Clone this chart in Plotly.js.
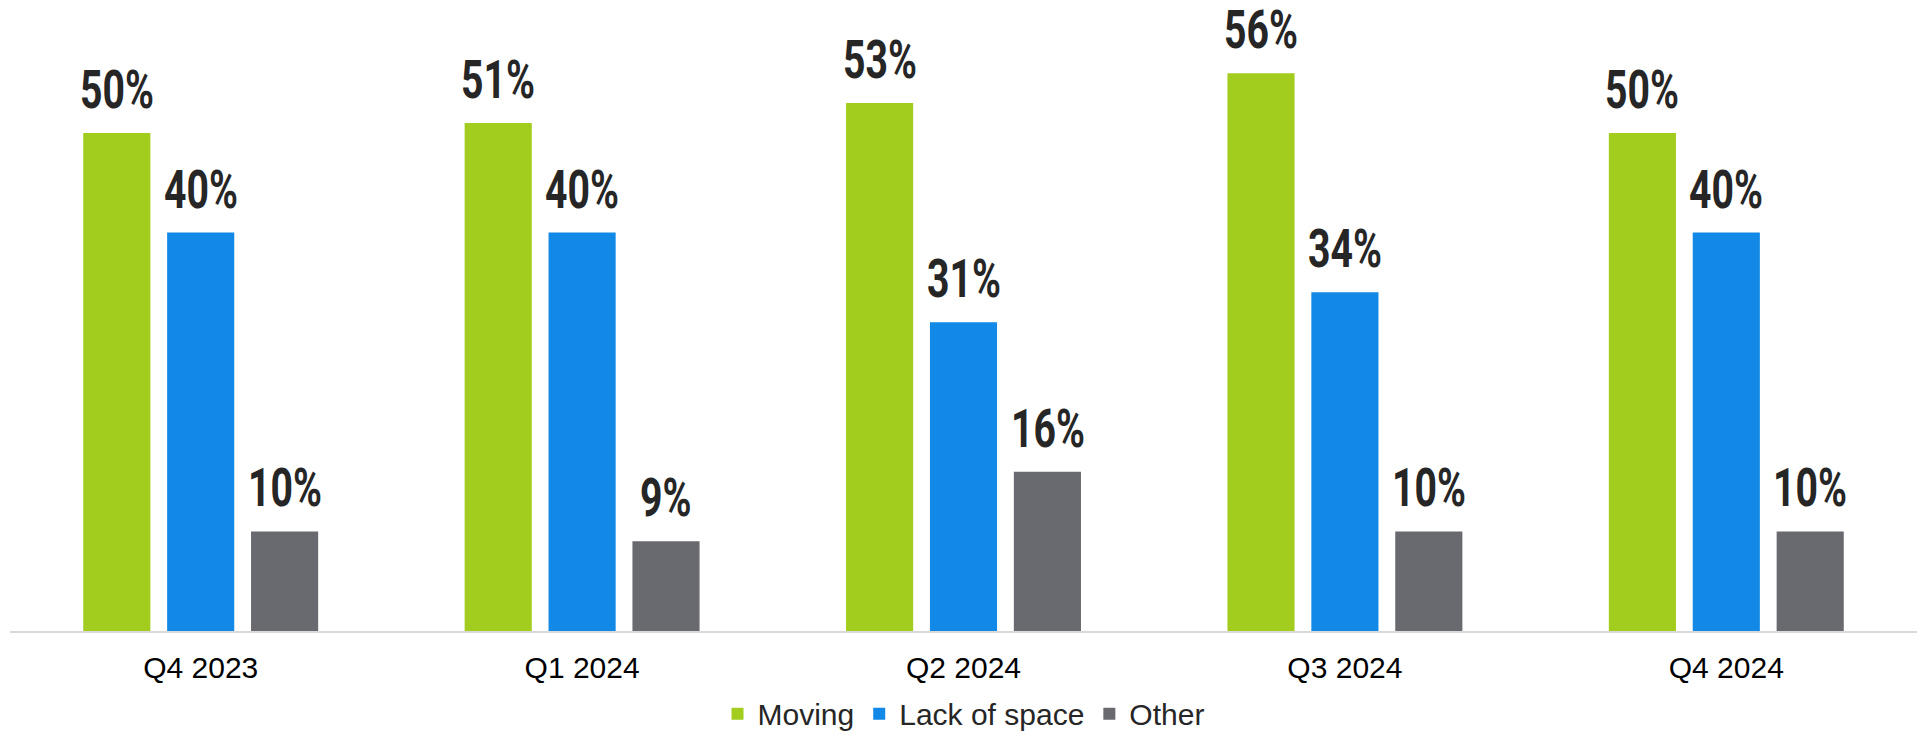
<!DOCTYPE html>
<html>
<head>
<meta charset="utf-8">
<script src="https://cdn.plot.ly/plotly-3.0.1.min.js"></script>
<style>
html,body{margin:0;padding:0;background:#fff;}
#chart{width:1929px;height:735px;}
#chart text.annotation-text{transform-box:fill-box;transform-origin:center;transform:scaleX(0.74);}
</style>
</head>
<body>
<div id="chart"></div>
<script>
const categories = ["Q4 2023", "Q1 2024", "Q2 2024", "Q3 2024", "Q4 2024"];
const moving = [50, 51, 53, 56, 50];
const lackOfSpace = [40, 40, 31, 34, 40];
const other = [10, 9, 16, 10, 10];
const seriesNames = ["Moving", "Lack of space", "Other"];
const seriesColors = ["#A2CD1E", "#1289E6", "#696A6F"];

const seriesValues = [moving, lackOfSpace, other];
const traces = seriesValues.map((vals, i) => ({
  type: "bar",
  name: seriesNames[i],
  x: categories,
  y: vals,
  marker: {color: seriesColors[i]},
  hoverinfo: "none"
}));

const labelFont = {family: "Roboto, 'Liberation Sans', sans-serif", size: 53, color: "#262626", weight: 700};
const slotPx = 84;
const annotations = [];
seriesValues.forEach((vals, i) => {
  vals.forEach((v, j) => {
    annotations.push({
      x: categories[j], y: v, xref: "x", yref: "y",
      text: v + "%", showarrow: false,
      xanchor: "center", yanchor: "bottom",
      xshift: (i - 1) * slotPx, yshift: 10,
      font: labelFont
    });
  });
});

const layout = {
  width: 1929, height: 735,
  margin: {l: 10, r: 12, t: 0, b: 104, autoexpand: false},
  paper_bgcolor: "#ffffff", plot_bgcolor: "#ffffff",
  barmode: "group", bargap: 0.34, bargroupgap: 0.2,
  showlegend: true,
  legend: {orientation: "h", x: 0.5, xanchor: "center", y: -0.131, yanchor: "middle",
           font: {family: "'Liberation Sans', Arial, sans-serif", size: 30, color: "#262626"},
           itemwidth: 30, traceorder: "normal"},
  xaxis: {type: "category", showline: true, linecolor: "#D9D9D9", linewidth: 2,
          ticks: "", showgrid: false, zeroline: false, ticklabelstandoff: 9,
          tickfont: {family: "'Liberation Sans', Arial, sans-serif", size: 30, color: "#000000"}},
  yaxis: {range: [0, 63.35], visible: false, showgrid: false, zeroline: false},
  annotations: annotations
};

Plotly.newPlot("chart", traces, layout, {displayModeBar: false, staticPlot: true});
</script>
</body>
</html>
